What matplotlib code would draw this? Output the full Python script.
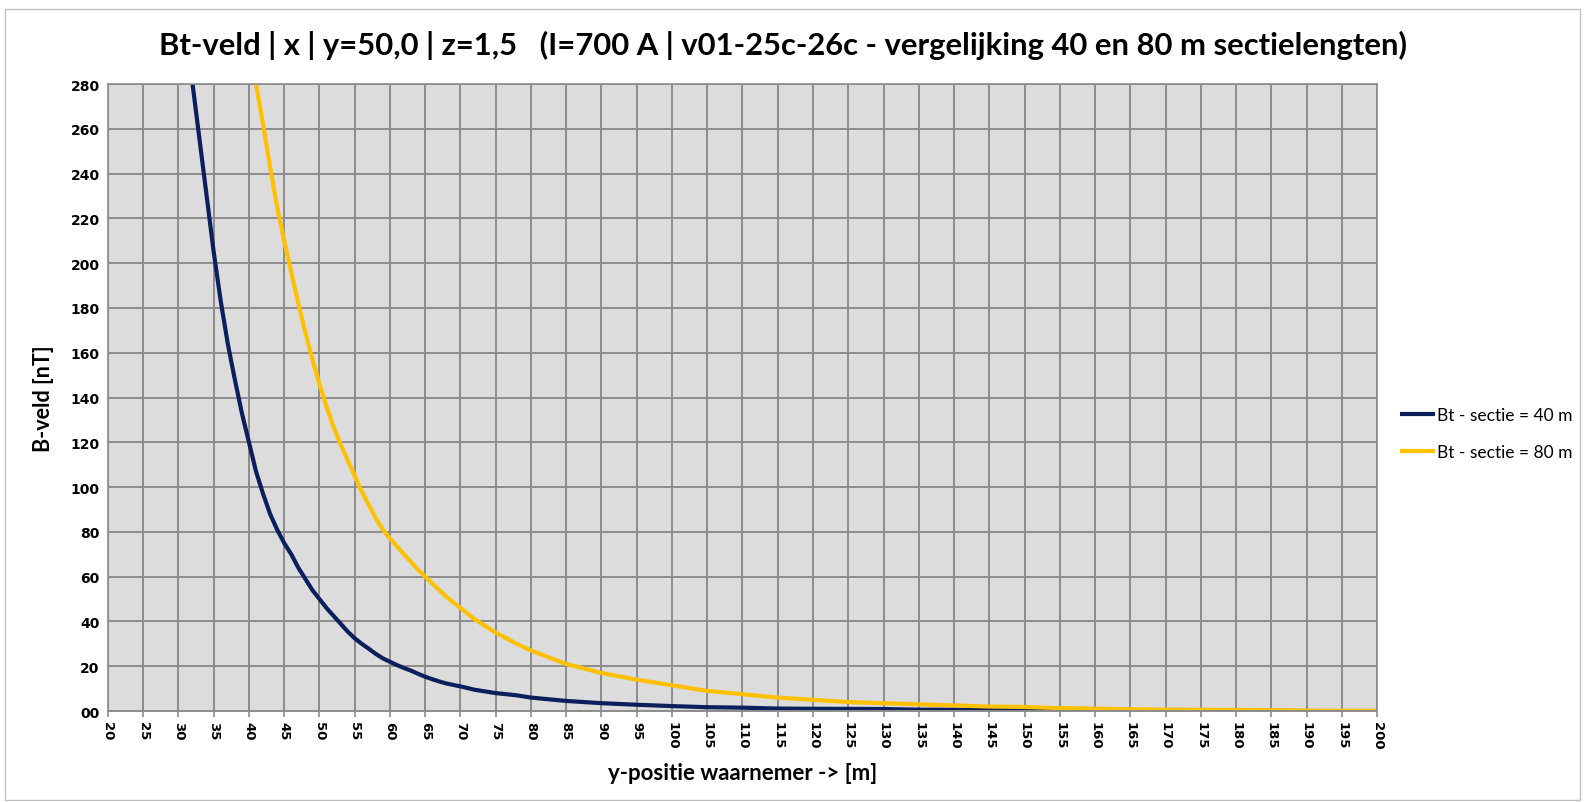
import matplotlib
matplotlib.use("Agg")
import matplotlib.pyplot as plt
from matplotlib.patches import Rectangle

# ---- data ----
x40 = [32, 33, 34, 35, 36, 37, 38, 39, 40, 41, 42, 43, 44, 45, 46, 47, 48, 49, 50,
       51, 52, 53, 54, 55, 56, 57, 58, 59, 60, 61, 62, 63, 64, 65, 66, 67, 68, 70,
       72, 75, 78, 80, 85, 90, 95, 100, 105, 110, 115, 120, 130, 135, 150, 153, 165, 189]
b40 = [280, 255, 230, 205, 183, 164, 148, 133, 120, 107, 97, 88, 81, 75, 70, 64, 59, 54, 50,
       46, 42.5, 39, 35.5, 32.5, 30, 27.8, 25.5, 23.5, 22, 20.5, 19.2, 18, 16.6, 15.3, 14.2, 13.2, 12.3, 11,
       9.5, 8, 7, 6, 4.5, 3.5, 2.8, 2.2, 1.7, 1.5, 1.1, 1.0, 0.9, 0.6, 0.5, 0.3, 0.1, 0.0]

x80 = [41, 42, 43, 44, 45, 46, 47, 48, 49, 50, 51, 52, 53, 54, 55, 56, 57, 58, 59, 60,
       62, 64, 65, 66, 68, 70, 72, 75, 78, 80, 85, 90, 95, 100, 105, 110, 115, 120,
       125, 130, 135, 140, 145, 150, 155, 160, 165, 170, 180, 190, 200]
b80 = [280, 262, 243, 225, 210, 196, 182, 169, 157, 146, 136, 127, 119, 112, 105, 98, 92, 86, 81, 77,
       70, 63, 60, 57, 51, 46, 41, 35, 30, 27, 21, 17, 14, 11.5, 9, 7.5, 6, 5,
       4, 3.5, 3, 2.5, 2, 1.8, 1.3, 1.1, 0.8, 0.6, 0.5, 0.2, 0.1]

x_ticks = list(range(20, 201, 5))
y_ticks = list(range(0, 281, 20))
y_tick_labels = ["00"] + [str(v) for v in y_ticks[1:]]

title = "Bt-veld | x | y=50,0 | z=1,5   (I=700 A | v01-25c-26c - vergelijking 40 en 80 m sectielengten)"
xlabel = "y-positie waarnemer -> [m]"
ylabel = "B-veld [nT]"
labels = ["Bt - sectie = 40 m", "Bt - sectie = 80 m"]
colors = ["#0B1F5C", "#FFC000"]

CAL = ["Lato", "DejaVu Sans"]

fig = plt.figure(figsize=(15.85, 8.03), dpi=100)
fig.patches.append(Rectangle((0.003, 0.003), 0.994, 0.985, transform=fig.transFigure,
                             fill=False, edgecolor="#BFBFBF", linewidth=1.0))
ax = fig.add_axes([0.0681, 0.1133, 0.8007, 0.7808])
ax.set_facecolor("#DCDCDC")

ax.plot(x40, b40, color=colors[0], linewidth=3.0, label=labels[0], solid_capstyle="butt")
ax.plot(x80, b80, color=colors[1], linewidth=3.0, label=labels[1], solid_capstyle="butt")

ax.set_xlim(20, 200)
ax.set_ylim(0, 280)
ax.set_xticks(x_ticks)
ax.set_yticks(y_ticks)
ax.set_yticklabels(y_tick_labels)
ax.grid(True, color="#8C8C8C", linewidth=1.4)
ax.set_axisbelow(True)
for s in ["top", "right", "left"]:
    ax.spines[s].set_color("#8C8C8C")
    ax.spines[s].set_linewidth(1.2)
ax.spines["bottom"].set_color("#8C8C8C")
ax.spines["bottom"].set_linewidth(1.4)
ax.tick_params(axis="both", length=4, color="#8C8C8C", width=1.2)
ax.tick_params(axis="x", direction="out", pad=3)
ax.tick_params(axis="y", length=0, pad=6)

for lab in ax.get_xticklabels():
    lab.set_rotation(-90)
    lab.set_fontweight("bold")
    lab.set_fontsize(9.5)
    lab.set_family(["DejaVu Sans"])
for lab in ax.get_yticklabels():
    lab.set_fontweight("bold")
    lab.set_fontsize(10)
    lab.set_family(["DejaVu Sans"])

ax.set_xlabel(xlabel, fontsize=16, fontweight="bold", family=CAL, labelpad=10)
ax.set_ylabel(ylabel, fontsize=15.5, fontweight="bold", family=CAL, labelpad=12)

fig.text(0.494, 0.944, title, ha="center", va="center", fontsize=22.3,
         fontweight="bold", family=CAL)

leg = ax.legend(loc="center left", bbox_to_anchor=(1.006, 0.443), frameon=False,
                prop={"family": CAL, "size": 12.5}, handlelength=2.0, handletextpad=0.1,
                labelspacing=1.2)

fig.savefig("out.png", dpi=100)
